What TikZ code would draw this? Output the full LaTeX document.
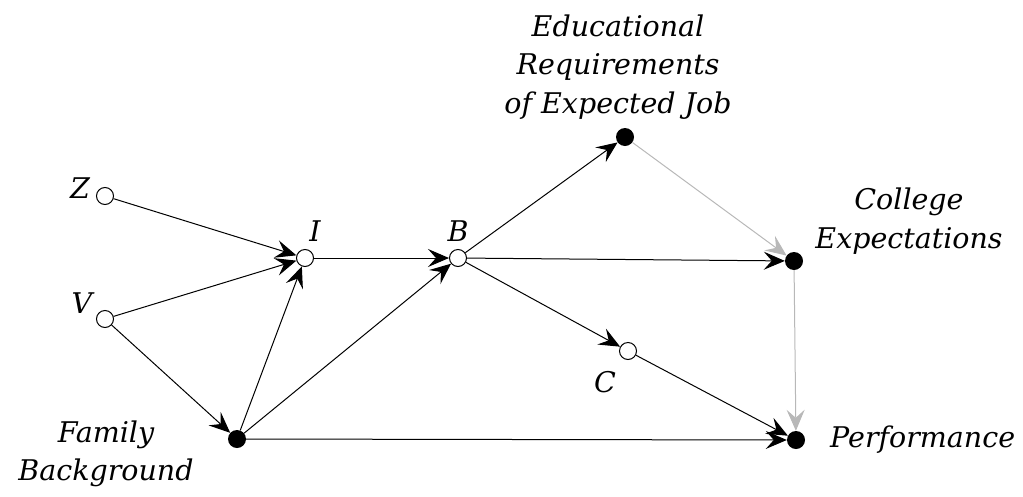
\documentclass[tikz,border=0pt]{standalone}
\usepackage{fontspec}
\setmainfont{DejaVu Serif}
\usetikzlibrary{arrows.meta}
\begin{document}
\begin{tikzpicture}[x=1pt,y=-1pt,
  open/.style={circle,draw=black,fill=white,line width=1pt,minimum size=17pt,inner sep=0pt},
  full/.style={circle,fill=black,minimum size=18pt,inner sep=0pt},
  lbl/.style={font=\fontsize{28.5}{38.5}\selectfont\itshape,inner sep=0pt,align=center},
  tip/.style={-{Stealth[length=21pt,width=18pt,inset=8pt]}},
  edge/.style={draw=black,line width=1pt,tip},
  gedge/.style={draw=black!28,line width=1pt,tip}]
\useasboundingbox (0,0) rectangle (1023,496);
\node[open] (Z) at (105,196) {};
\node[open] (V) at (105,319) {};
\node[open] (I) at (305,258) {};
\node[open] (B) at (458,258) {};
\node[full] (E) at (625,137) {};
\node[full] (Co) at (794,261) {};
\node[open] (C) at (628,351) {};
\node[full] (F) at (237,439) {};
\node[full] (P) at (796,440) {};
\node[lbl] (Zl) at (80,188) {Z};
\node[lbl] (Vl) at (82,303) {V};
\node[lbl] (Il) at (315,231) {I};
\node[lbl] (Bl) at (458,231) {B};
\node[lbl] (Cl) at (605,382) {C};
\node[lbl] (El) at (618,67) {Educational\\Requirements\\of Expected Job};
\node[lbl] (Col) at (909,221) {College\\Expectations};
\node[lbl] (Fl) at (106,454) {Family\\Background};
\node[lbl,anchor=west] (Pl) at (830,440) {Performance};
\draw[edge] (Z) -- (I);
\draw[edge] (V) -- (I);
\draw[edge] (V) -- (F);
\draw[edge] (F) -- (I);
\draw[edge] (F) -- (B);
\draw[edge] (F) -- (P);
\draw[edge] (I) -- (B);
\draw[edge] (B) -- (E);
\draw[edge] (B) -- (Co);
\draw[edge] (B) -- (C);
\draw[edge] (C) -- (P);
\draw[gedge] (E) -- (Co);
\draw[gedge] (Co) -- (P);
\end{tikzpicture}
\end{document}
